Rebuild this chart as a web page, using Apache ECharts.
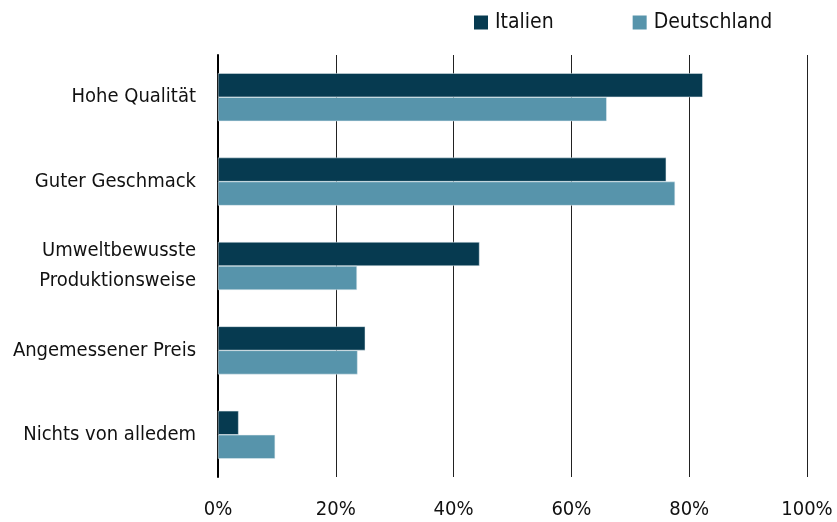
<!DOCTYPE html>
<html>
<head>
<meta charset="utf-8">
<script src="https://cdn.jsdelivr.net/npm/echarts@6/dist/echarts.min.js"></script>
<style>
  html, body { margin: 0; padding: 0; background: #fff; }
  #chart { width: 837px; height: 522px; }
</style>
</head>
<body>
<div id="chart"></div>
<script>
var categories = ["Hohe Qualität", "Guter Geschmack", "Umweltbewusste\nProduktionsweise", "Angemessener Preis", "Nichts von alledem"];
var italien = [82.3, 76.1, 44.4, 25.0, 3.5];
var deutschland = [66.0, 77.6, 23.6, 23.7, 9.7];
var xTicks = [0, 20, 40, 60, 80, 100];

var font = '"Liberation Sans Narrow", "DejaVu Sans Condensed", sans-serif';
var chart = echarts.init(document.getElementById("chart"));
var option = {
  animation: false,
  textStyle: { fontFamily: font },
  legend: {
    top: 12,
    left: 474,
    padding: 0,
    itemWidth: 14,
    itemHeight: 14,
    itemGap: 79,
    icon: "rect",
    itemStyle: { borderWidth: 0 },
    textStyle: { fontSize: 21, color: "#111", fontFamily: font, padding: [0, 0, 0, 2] },
    data: ["Italien", "Deutschland"]
  },
  grid: { left: 218, right: 30, top: 55, bottom: 45, containLabel: false },
  xAxis: {
    type: "value",
    min: 0,
    max: 100,
    interval: 20,
    axisLine: { show: false },
    axisTick: { show: false },
    splitLine: { show: true, lineStyle: { color: "#222", width: 1 } },
    axisLabel: {
      margin: 23,
      fontSize: 20,
      color: "#111",
      fontFamily: font,
      formatter: function (v) { return xTicks.indexOf(v) >= 0 ? v + "%" : ""; }
    }
  },
  yAxis: {
    type: "category",
    inverse: true,
    data: categories,
    axisLine: { show: true, onZero: false, lineStyle: { color: "#000", width: 2 } },
    axisTick: { show: false },
    axisLabel: {
      margin: 22,
      fontSize: 20,
      lineHeight: 30,
      color: "#111",
      fontFamily: font
    }
  },
  series: [
    {
      name: "Italien",
      type: "bar",
      data: italien,
      barWidth: 24,
      barGap: "0%",
      itemStyle: { color: "#063a50", borderColor: "#e6eef2", borderWidth: 0.5 }
    },
    {
      name: "Deutschland",
      type: "bar",
      data: deutschland,
      barWidth: 24,
      barGap: "0%",
      itemStyle: { color: "#5794ab", borderColor: "#e6eef2", borderWidth: 0.5 }
    }
  ]
};
chart.setOption(option);
</script>
</body>
</html>
